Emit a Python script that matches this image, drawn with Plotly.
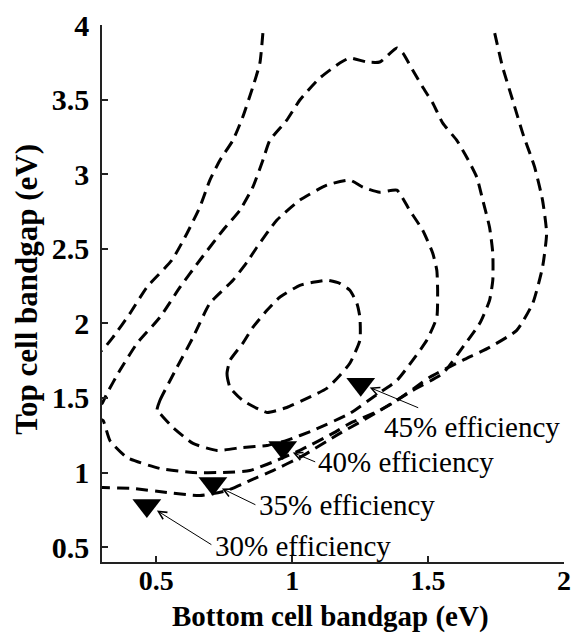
import plotly.graph_objects as go

# ---- data ----
# 30% contour, left branch
c30_left_x = [0.892, 0.881, 0.855, 0.818, 0.782, 0.734, 0.697, 0.660, 0.613, 0.557, 0.465, 0.403, 0.340, 0.300, 0.290]
c30_left_y = [3.946, 3.745, 3.584, 3.383, 3.228, 3.094, 2.960, 2.779, 2.604, 2.423, 2.242, 2.067, 1.906, 1.819, 1.812]
# 30% contour, right/bottom branch
c30_right_x = [1.745, 1.774, 1.811, 1.848, 1.892, 1.921, 1.936, 1.921, 1.885, 1.826, 1.726, 1.627, 1.506, 1.385,
               1.260, 1.175, 1.028, 0.929, 0.844, 0.760, 0.660, 0.539, 0.414, 0.304, 0.290]
c30_right_y = [3.946, 3.718, 3.497, 3.275, 3.047, 2.826, 2.604, 2.376, 2.134, 1.953, 1.839, 1.752, 1.638, 1.483,
               1.349, 1.262, 1.101, 1.013, 0.946, 0.879, 0.846, 0.866, 0.893, 0.899, 0.899]
# 35% contour
c35_x = [0.290, 0.300, 0.318, 0.366, 0.429, 0.513, 0.587, 0.660, 0.745, 0.807, 0.855, 0.892, 0.918, 0.980, 1.028,
         1.101, 1.175, 1.212, 1.274, 1.322, 1.385, 1.407, 1.443, 1.480, 1.517, 1.554, 1.605, 1.642, 1.679, 1.701,
         1.726, 1.738, 1.738, 1.726, 1.690, 1.627, 1.554, 1.443, 1.322, 1.212, 1.149, 1.028, 0.943, 0.844, 0.745,
         0.635, 0.513, 0.392, 0.329, 0.304, 0.290]
c35_y = [1.455, 1.463, 1.530, 1.685, 1.866, 2.040, 2.242, 2.423, 2.624, 2.758, 2.913, 3.094, 3.228, 3.362, 3.497,
         3.644, 3.745, 3.779, 3.752, 3.752, 3.846, 3.812, 3.698, 3.584, 3.477, 3.342, 3.228, 3.114, 2.980, 2.826,
         2.644, 2.470, 2.289, 2.154, 2.000, 1.839, 1.664, 1.550, 1.416, 1.329, 1.262, 1.148, 1.081, 1.013, 1.000,
         1.000, 1.027, 1.101, 1.215, 1.349, 1.360]
# 40% contour
c40_x = [0.502, 0.513, 0.576, 0.635, 0.697, 0.782, 0.833, 0.870, 0.943, 1.028, 1.127, 1.212, 1.260, 1.322, 1.385,
         1.432, 1.480, 1.517, 1.532, 1.535, 1.532, 1.495, 1.443, 1.385, 1.296, 1.212, 1.076, 0.980, 0.907, 0.818,
         0.723, 0.635, 0.561, 0.513, 0.502]
c40_y = [1.416, 1.483, 1.705, 1.906, 2.134, 2.289, 2.409, 2.510, 2.691, 2.826, 2.926, 2.960, 2.913, 2.879, 2.893,
         2.758, 2.624, 2.470, 2.356, 2.221, 2.040, 1.886, 1.752, 1.617, 1.503, 1.396, 1.282, 1.215, 1.181, 1.168,
         1.148, 1.195, 1.302, 1.396, 1.416]
# 45% contour
c45_x = [0.771, 0.760, 0.771, 0.818, 0.907, 0.980, 1.054, 1.127, 1.175, 1.212, 1.249, 1.249, 1.238, 1.212, 1.175,
         1.127, 1.076, 1.028, 0.954, 0.907, 0.855, 0.818, 0.771]
c45_y = [1.752, 1.664, 1.570, 1.483, 1.403, 1.436, 1.497, 1.564, 1.651, 1.732, 1.886, 2.040, 2.134, 2.221, 2.268,
         2.289, 2.275, 2.255, 2.175, 2.087, 1.973, 1.866, 1.752]

# labelled points
marker_x = [0.465, 0.708, 0.965, 1.252]
marker_y = [0.779, 0.926, 1.168, 1.591]
labels = ["30% efficiency", "35% efficiency", "40% efficiency", "45% efficiency"]

x_title = "Bottom cell bandgap (eV)"
y_title = "Top cell bandgap (eV)"
x_ticks = [0.5, 1, 1.5, 2]
x_ticklabels = ["0.5", "1", "1.5", "2"]
y_ticks = [0.5, 1, 1.5, 2, 2.5, 3, 3.5, 4]
y_ticklabels = ["0.5", "1", "1.5", "2", "2.5", "3", "3.5", "4"]

# ---- figure ----
fig = go.Figure()
line_style = dict(color="black", width=3, dash="12px,7px", shape="spline", smoothing=0.5)
for xs, ys in [(c30_left_x, c30_left_y), (c30_right_x, c30_right_y), (c35_x, c35_y),
               (c40_x, c40_y), (c45_x, c45_y)]:
    fig.add_trace(go.Scatter(x=xs, y=ys, mode="lines", line=line_style, hoverinfo="skip"))

fig.add_trace(go.Scatter(x=marker_x, y=marker_y, mode="markers",
                         marker=dict(symbol="triangle-down", size=25, color="black"),
                         hoverinfo="skip"))

# arrows (tip near marker, tail at label) and labels
arrow_tip = [(0.502, 0.745), (0.741, 0.893), (1.002, 1.134), (1.285, 1.570)]
arrow_tail = [(0.708, 0.510), (0.870, 0.779), (1.090, 1.067), (1.469, 1.430)]
label_pos = [(0.709, 0.510), (0.870, 0.781), (1.088, 1.069), (1.330, 1.430)]
label_yshift = [0, 0, 0, -19]

annotations = []
for (tx, ty), (ax_, ay_) in zip(arrow_tip, arrow_tail):
    annotations.append(dict(x=tx, y=ty, ax=ax_, ay=ay_, xref="x", yref="y", axref="x", ayref="y",
                            text="", showarrow=True, arrowhead=5, arrowsize=1.6, arrowwidth=1,
                            arrowcolor="black", standoff=0))
for (lx, ly), txt, ys in zip(label_pos, labels, label_yshift):
    annotations.append(dict(x=lx, y=ly, xref="x", yref="y", text=txt, showarrow=False,
                            xanchor="left", yanchor="middle", yshift=ys,
                            font=dict(family="Liberation Serif", size=29, color="black")))

annotations.append(dict(x=0.494, y=0, xref="paper", yref="paper", text="<b>" + x_title + "</b>",
                        showarrow=False, xanchor="center", yanchor="bottom", yshift=-73,
                        font=dict(family="Liberation Serif", size=29, color="black")))
annotations.append(dict(x=0, y=0.507, xref="paper", yref="paper", text="<b>" + y_title + "</b>",
                        showarrow=False, xanchor="center", yanchor="middle", xshift=-75,
                        textangle=-90, font=dict(family="Liberation Serif", size=31, color="black")))

axis_common = dict(showline=True, linecolor="#222", linewidth=1.6, ticks="inside", ticklen=6,
                   tickcolor="#222", tickwidth=1.5, showgrid=False, zeroline=False, mirror=False,
                   automargin=False)

fig.update_layout(
    width=576, height=635,
    margin=dict(l=102, r=12, t=25, b=73, autoexpand=False),
    paper_bgcolor="white", plot_bgcolor="white",
    showlegend=False,
    annotations=annotations,
    xaxis=dict(range=[0.3, 2.0], tickvals=x_ticks, ticktext=x_ticklabels, ticklabelstandoff=-7,
               tickfont=dict(family="Liberation Serif", size=28, color="black", weight="bold"),
               **axis_common),
    yaxis=dict(range=[0.4, 4.0], tickvals=y_ticks, ticktext=y_ticklabels, ticklabelstandoff=5,
               tickfont=dict(family="Liberation Serif", size=30, color="black", weight="bold"),
               **axis_common),
)

fig.write_html("out.html")
